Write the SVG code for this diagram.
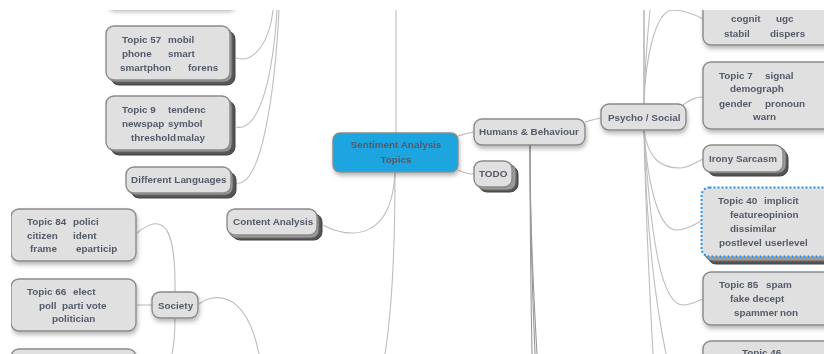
<svg xmlns="http://www.w3.org/2000/svg" width="824" height="354" viewBox="0 0 824 354">
<style>
text{font-family:"Liberation Sans",Arial,sans-serif;font-size:9.9px;font-weight:bold;fill:#525a6a}
.n{fill:#e0e0e0;stroke:#8a8a8a;stroke-width:1.4;filter:url(#s)}
.f{fill:#e0e0e0;stroke:#8a8a8a;stroke-width:1.4}
.s1{fill:#9a9a9a;stroke:#666;stroke-width:1}
.s2{fill:#555;stroke:#444;stroke-width:1}
.c{fill:none;stroke:#bdbdbd;stroke-width:1.1}
.d{fill:none;stroke:#999;stroke-width:1.1}
</style>
<defs>
<filter id="s" x="-20%" y="-20%" width="140%" height="150%"><feDropShadow dx="1" dy="3" stdDeviation="2.2" flood-color="#000" flood-opacity=".28"/></filter>
<filter id="b" x="0" y="0" width="100%" height="100%"><feGaussianBlur stdDeviation=".4"/></filter>
<clipPath id="v"><rect x="0" y="10" width="824" height="344"/></clipPath>
</defs>
<rect width="824" height="354" fill="#fff"/>
<g clip-path="url(#v)"><g filter="url(#b)">
<g id="connectors">
<path class="c" d="M236 58C255 64 270 40 273 10"/>
<path class="c" d="M236 127C256 132 272 90 277 10"/>
<path class="c" d="M236 183C262 188 275 90 279 10"/>
<path class="c" d="M396 133V10"/>
<path class="c" d="M323 225C350 240 392 240 395 172"/>
<path class="c" d="M395 172C395 250 392 310 385 354"/>
<path class="c" d="M458 136C465 134 467 133 474 132"/>
<path class="c" d="M458 170C464 173 468 174 474 174"/>
<path class="d" d="M530 145C530 240 531 300 532 354"/>
<path class="d" d="M530 145C530 240 533 300 535 354"/>
<path class="d" d="M530 145C530 240 534 300 537 354"/>
<path class="c" d="M585 122C592 120 595 119 601 118"/>
<path class="d" d="M644 104V10"/>
<path class="c" d="M644 104C645 60 647 40 650 10"/>
<path class="c" d="M703 19C690 12 680 10 672 10C655 12 645 60 644 104"/>
<path class="c" d="M683 105C690 100 695 97 703 97"/>
<path class="c" d="M644 130C648 160 662 168 680 168C688 168 696 162 703 159"/>
<path class="c" d="M644 130C648 190 660 232 678 230C688 229 694 225 701 221"/>
<path class="c" d="M644 130C650 230 660 305 683 305C690 305 696 302 703 299"/>
<path class="c" d="M644 130C646 220 650 300 653 354"/>
<path class="c" d="M644 130C646 220 655 300 666 354"/>
<path class="c" d="M175 292C176 230 165 210 137 233"/>
<path class="c" d="M137 305H152"/>
<path class="c" d="M175 318C175 330 174 345 172 354"/>
<path class="c" d="M199 304C210 295 245 285 259 354"/>
</g>
<g id="node-top-left"><rect class="n" x="107" y="-40" width="128" height="48" rx="8"/></g>
<g id="topic57"><rect class="s2" x="111" y="31" width="124" height="54" rx="8"/><rect class="s1" x="108" y="28" width="124" height="54" rx="8"/><rect class="f" x="106" y="26" width="124" height="54" rx="8"/>
<text x="122" y="43">Topic 57<tspan x="168">mobil</tspan></text><text x="122" y="57">phone<tspan x="168">smart</tspan></text><text x="120" y="71">smartphon<tspan x="188">forens</tspan></text></g>
<g id="topic9"><rect class="s2" x="111" y="101" width="124" height="54" rx="8"/><rect class="s1" x="108" y="98" width="124" height="54" rx="8"/><rect class="f" x="106" y="96" width="124" height="54" rx="8"/>
<text x="122" y="113">Topic 9<tspan x="168">tendenc</tspan></text><text x="122" y="127">newspap<tspan x="168">symbol</tspan></text><text x="131" y="141">threshold<tspan x="177">malay</tspan></text></g>
<g id="different-languages"><rect class="s2" x="131" y="172" width="105" height="26" rx="8"/><rect class="s1" x="128" y="169" width="105" height="26" rx="8"/><rect class="f" x="126" y="167" width="105" height="26" rx="8"/>
<text x="131" y="183">Different Languages</text></g>
<g id="content-analysis"><rect class="s2" x="232" y="214" width="90" height="26" rx="8"/><rect class="s1" x="229" y="212" width="90" height="26" rx="8"/><rect class="f" x="227" y="209" width="90" height="26" rx="8"/>
<text x="233" y="225">Content Analysis</text></g>
<g id="root"><rect class="n" style="fill:#1fa5df" x="333" y="133" width="125" height="39" rx="7"/>
<text x="396" y="148" text-anchor="middle">Sentiment Analysis</text><text x="396" y="163" text-anchor="middle">Topics</text></g>
<g id="humans"><rect class="n" x="474" y="119" width="111" height="26" rx="8"/><text x="479" y="135">Humans &amp; Behaviour</text></g>
<g id="todo"><rect class="s2" x="479" y="166" width="39" height="26" rx="8"/><rect class="s1" x="477" y="164" width="39" height="26" rx="8"/><rect class="f" x="474" y="161" width="38" height="26" rx="8"/><text x="479" y="177">TODO</text></g>
<g id="psycho"><rect class="n" x="601" y="104" width="85" height="26" rx="8"/><text x="608" y="121">Psycho / Social</text></g>
<g id="topic-top-right"><rect class="n" x="703" y="-30" width="135" height="75" rx="8"/>
<text x="731" y="22">cognit<tspan x="776">ugc</tspan></text><text x="724" y="37">stabil<tspan x="770">dispers</tspan></text></g>
<g id="topic7"><rect class="n" x="703" y="62" width="135" height="67" rx="8"/>
<text x="719" y="79">Topic 7<tspan x="765">signal</tspan></text><text x="730" y="92">demograph</text><text x="719" y="107">gender<tspan x="765">pronoun</tspan></text><text x="753" y="120">warn</text></g>
<g id="irony"><rect class="s2" x="708" y="150" width="80" height="26" rx="8"/><rect class="s1" x="706" y="147" width="80" height="26" rx="8"/><rect class="f" x="703" y="145" width="80" height="27" rx="8"/><text x="709" y="162">Irony Sarcasm</text></g>
<g id="topic40"><rect class="s2" x="708" y="195" width="130" height="69" rx="8"/><rect class="s1" x="705" y="192" width="130" height="69" rx="8"/><rect x="701.500" y="187.500" width="135" height="69" rx="8" fill="#e0e0e0" stroke="#2b93ee" stroke-width="2" stroke-dasharray="2 2"/>
<text x="718" y="204">Topic 40<tspan x="764">implicit</tspan></text><text x="730" y="218">featureopinion</text><text x="730" y="232">dissimilar</text><text x="719" y="246">postlevel<tspan x="765">userlevel</tspan></text></g>
<g id="topic85"><rect class="n" x="703" y="272" width="135" height="53" rx="8"/>
<text x="719" y="288">Topic 85<tspan x="766">spam</tspan></text><text x="730" y="302">fake decept</text><text x="734" y="316">spammer<tspan x="780">non</tspan></text></g>
<g id="topic46"><rect class="n" x="703" y="341" width="135" height="50" rx="8"/><text x="742" y="356">Topic 46</text></g>
<g id="topic84"><rect class="n" x="11" y="209" width="125" height="52" rx="8"/>
<text x="27" y="225">Topic 84<tspan x="73">polici</tspan></text><text x="27" y="239">citizen<tspan x="73">ident</tspan></text><text x="30" y="252">frame<tspan x="76">eparticip</tspan></text></g>
<g id="topic66"><rect class="n" x="11" y="279" width="125" height="52" rx="8"/>
<text x="27" y="295">Topic 66<tspan x="73">elect</tspan></text><text x="39" y="309">poll<tspan x="62">parti vote</tspan></text><text x="52" y="322">politician</text></g>
<g id="topic-bottom-left"><rect class="n" x="11" y="349" width="125" height="50" rx="8"/></g>
<g id="society"><rect class="n" x="152" y="292" width="46" height="26" rx="8"/><text x="158" y="309">Society</text></g>
</g></g>
</svg>
